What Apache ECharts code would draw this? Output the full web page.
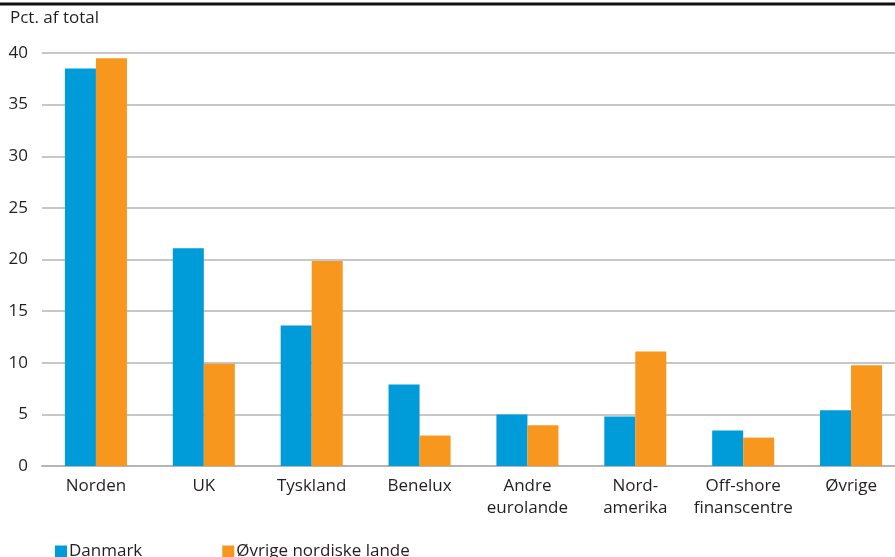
<!DOCTYPE html>
<html>
<head>
<meta charset="utf-8">
<script src="https://cdn.jsdelivr.net/npm/echarts@6/dist/echarts.min.js"></script>
<style>
  html, body { margin: 0; padding: 0; background: #fff; }
  #chart { width: 895px; height: 557px; }
</style>
</head>
<body>
<div id="chart"></div>
<script>
// 数据
const categories = ['Norden', 'UK', 'Tyskland', 'Benelux', 'Andre\neurolande', 'Nord-\namerika', 'Off-shore\nfinanscentre', 'Øvrige']
const danmark = [38.5, 21.1, 13.6, 7.9, 5.0, 4.8, 3.45, 5.4]
const oevrige = [39.5, 9.9, 19.85, 2.95, 3.95, 11.1, 2.75, 9.75]
const seriesNames = ['Danmark', 'Øvrige nordiske lande']

const font = 'Open Sans'
const textColor = '#231f20'

const chart = echarts.init(document.getElementById('chart'))

chart.setOption({
  animation: false,
  textStyle: { fontFamily: font },
  grid: {
    top: 53,
    left: 42,
    width: 863, // 最后一个类目超出画布右边
    bottom: 91,
    outerBoundsMode: 'none',
  },
  graphic: [
    {
      type: 'line',
      shape: { x1: 0, y1: 4, x2: 895, y2: 4 },
      style: { stroke: '#111', lineWidth: 3 },
    },
    {
      type: 'text',
      left: 10,
      top: 10,
      style: { text: 'Pct. af total', fill: textColor, font: '17px "Open Sans"' },
    },
  ],
  legend: {
    left: 50,
    top: 538,
    icon: 'rect',
    itemWidth: 12,
    itemHeight: 12,
    itemGap: 80,
    textStyle: { color: textColor, fontSize: 17, fontFamily: font, padding: [0, 0, 0, -3] },
    data: seriesNames,
  },
  xAxis: {
    type: 'category',
    data: categories,
    axisLine: { lineStyle: { color: '#b5b5b5', width: 2 } },
    axisTick: { inside: true, length: 5, lineStyle: { color: '#b5b5b5', width: 1.5 } },
    axisLabel: { color: textColor, fontSize: 17, lineHeight: 22, margin: 9, interval: 0 },
  },
  yAxis: {
    type: 'value',
    min: 0,
    max: 40,
    interval: 5,
    axisLine: { show: false },
    axisTick: { show: false },
    axisLabel: { color: textColor, fontSize: 17, margin: 14 },
    splitLine: { lineStyle: { color: '#b5b5b5', width: 1.5 } },
  },
  series: [
    {
      name: seriesNames[0],
      type: 'bar',
      data: danmark,
      barGap: '0%',
      barCategoryGap: '42.5%',
      itemStyle: { color: '#009bd9' },
    },
    {
      name: seriesNames[1],
      type: 'bar',
      data: oevrige,
      itemStyle: { color: '#f7971e' },
    },
  ],
})
</script>
</body>
</html>
